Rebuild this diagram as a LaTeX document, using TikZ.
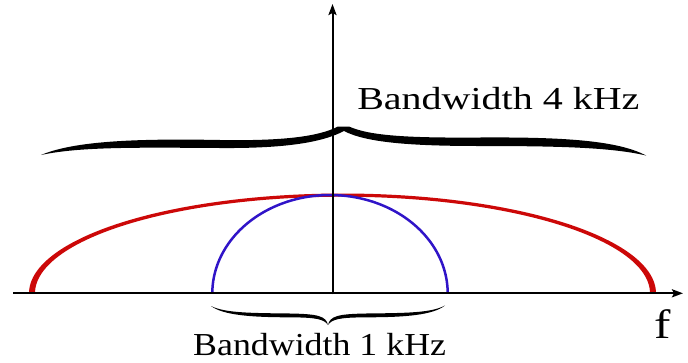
\documentclass[tikz,border=0pt]{standalone}
\usepackage{fontspec}
\setmainfont{Liberation Serif}
\usetikzlibrary{arrows.meta}
\definecolor{curvered}{RGB}{204,8,8}
\definecolor{curveblue}{RGB}{48,20,200}
\tikzset{
  axisline/.style={line width=2pt, black},
  axistip/.style={-{Stealth[length=11pt,width=8pt,inset=2pt]}},
  bracefill/.style={fill=black, draw=none},
  labeltext/.style={font=\fontsize{32}{38}\selectfont, inner sep=0pt}
}
\begin{document}
\begin{tikzpicture}[x=1pt,y=-1pt]
\useasboundingbox (0,0) rectangle (688,362);
% red wide spectrum (ring between two half ellipses, thicker at the ends)
\fill[curvered] plot[domain=0:180,samples=120] ({342.5+313.5*cos(\x)},{293.3-99.8*sin(\x)})
  -- plot[domain=180:0,samples=120] ({342.5+307.5*cos(\x)},{293.3-96.6*sin(\x)}) -- cycle;
% blue narrow spectrum
\draw[curveblue, line width=2.5pt] plot[domain=0:180,samples=100] ({330+117.7*cos(\x)},{293.3-98.3*sin(\x)});
% axes
\coordinate (xl) at (13,293.3);
\coordinate (xr) at (683,293.3);
\coordinate (yb) at (332.5,294.3);
\coordinate (yt) at (332.5,4);
\draw[axisline, axistip] (xl) -- (xr);
\draw[axisline, axistip] (yb) -- (yt);
% top brace
\fill[bracefill] (41,155) .. controls (75,140.5) and (140,138.5) .. (220,140)
  .. controls (280,141) and (318,137) .. (338,126.5) -- (349,126.5)
  .. controls (370,136) and (410,138) .. (480,137.5)
  .. controls (560,137) and (617,140) .. (646,155.5)
  .. controls (612,147.5) and (560,146) .. (480,146)
  .. controls (410,146) and (366,142.5) .. (344,131)
  .. controls (322,142.5) and (285,148.5) .. (220,148)
  .. controls (140,147.5) and (80,146.5) .. (41,155) -- cycle;
% bottom brace
\fill[bracefill] (211,306) .. controls (225,313) and (250,313) .. (290,313.5)
  .. controls (318,314) and (326,316) .. (328,325)
  .. controls (330,316) and (338,314) .. (366,313.5)
  .. controls (406,313) and (431,313) .. (445,305.5)
  .. controls (433,315) and (406,317.3) .. (366,317.3)
  .. controls (340,317.5) and (332,319) .. (328,325)
  .. controls (324,319) and (316,317.5) .. (290,317.3)
  .. controls (250,317.3) and (223,315) .. (211,306) -- cycle;
% labels
\node[labeltext, anchor=base west, xscale=1.25] (bw4) at (357,109) {Bandwidth 4 kHz};
\node[labeltext, anchor=base west, xscale=1.12] (bw1) at (193,355) {Bandwidth 1 kHz};
\node[font=\fontsize{41}{48}\selectfont, inner sep=0pt, anchor=base west, xscale=1.2] (flab) at (654,338) {f};
\end{tikzpicture}
\end{document}
